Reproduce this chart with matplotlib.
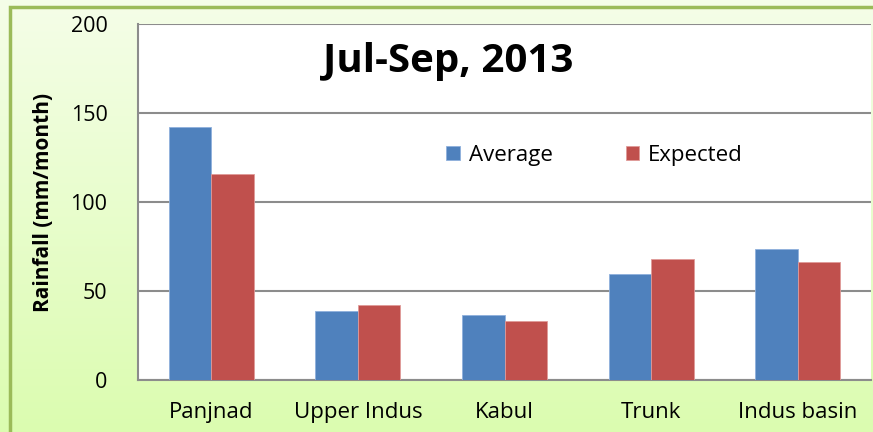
import numpy as np
import matplotlib.pyplot as plt
from matplotlib.patches import Rectangle

# Data
regions = ["Panjnad", "Upper Indus", "Kabul", "Trunk", "Indus basin"]
average = [142, 39, 36.5, 59.5, 73.5]
expected = [116, 42, 33.3, 68, 66.5]

plt.rcParams["font.family"] = ["Open Sans", "DejaVu Sans"]

fig = plt.figure(figsize=(8.73, 4.32), dpi=100)

# light green gradient background
bg = fig.add_axes([0, 0, 1, 1], zorder=-10)
grad = np.linspace(0, 1, 256).reshape(-1, 1)
top_c = np.array([0.96, 0.995, 0.91])
bot_c = np.array([0.86, 0.99, 0.69])
img = top_c * (1 - grad[..., None]) + bot_c * grad[..., None]
bg.imshow(img, aspect="auto", extent=[0, 1, 0, 1], origin="upper")
bg.add_patch(Rectangle((10 / 873, -0.1), 1.2, (432 - 7) / 432 + 0.1,
                       fill=False, edgecolor="#9bbb59", linewidth=2.5))
bg.set_xlim(0, 1)
bg.set_ylim(0, 1)
bg.axis("off")

ax = fig.add_axes([138 / 873, 52 / 432, 733 / 873, 356 / 432])
ax.set_facecolor("white")

x = np.arange(len(regions))
w = 0.29
ax.bar(x - w / 2, average, w, color="#4f81bd", edgecolor="#8fb0dc", linewidth=0.6,
       label="Average", zorder=3)
ax.bar(x + w / 2, expected, w, color="#c0504d", edgecolor="#e09a98", linewidth=0.6,
       label="Expected", zorder=3)

ax.set_xlim(-0.5, len(regions) - 0.5)
ax.set_ylim(0, 200)
ax.set_yticks([0, 50, 100, 150, 200])
ax.set_xticks(x)
ax.set_xticklabels(regions, fontsize=16)
ax.tick_params(axis="y", labelsize=15.5, length=0, pad=22)
ax.tick_params(axis="x", length=0, pad=16)
ax.grid(axis="y", color="#8c8c8c", linewidth=1.5, zorder=1)

for s in ["top", "right"]:
    ax.spines[s].set_visible(False)
ax.spines["left"].set_color("#8c8c8c")
ax.spines["bottom"].set_color("#8c8c8c")
ax.spines["left"].set_linewidth(1.5)
ax.spines["bottom"].set_linewidth(1.5)

ax.set_ylabel("Rainfall (mm/month)", fontsize=15, fontweight="bold", labelpad=12)
ax.text(0.423, 0.895, "Jul-Sep, 2013", transform=ax.transAxes, ha="center",
        va="center", fontsize=29, fontweight="bold")

ax.legend(loc="center", bbox_to_anchor=(0.623, 0.63), ncol=2, frameon=False,
          fontsize=16, handlelength=0.6, handleheight=0.6, columnspacing=3.3,
          handletextpad=0.4)

plt.savefig("out.png", dpi=100)
